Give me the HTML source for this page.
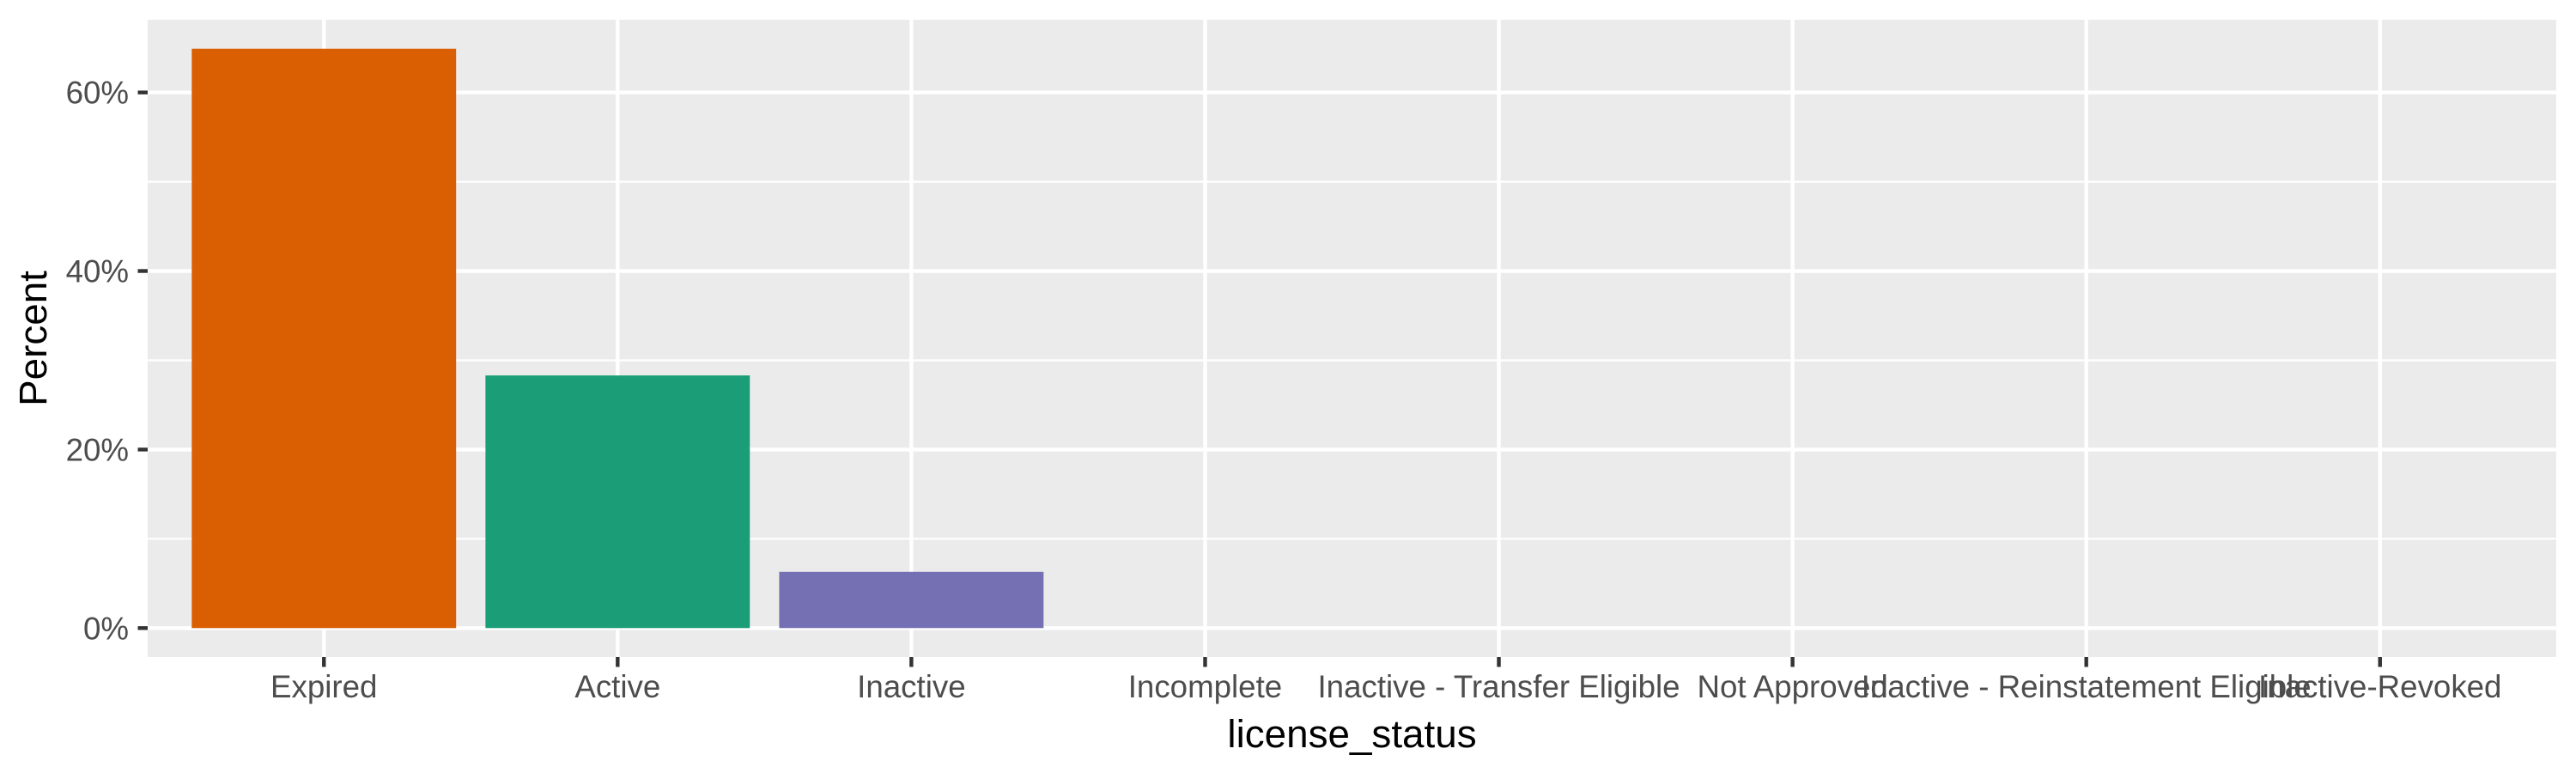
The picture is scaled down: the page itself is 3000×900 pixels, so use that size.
<!DOCTYPE html>
<html><head><meta charset="utf-8"><style>
html,body{margin:0;padding:0;background:#fff;}
svg{display:block;font-family:"Liberation Sans",Arial,sans-serif;}
</style></head><body>
<svg id="chart" width="3000" height="900" xmlns="http://www.w3.org/2000/svg">
<rect width="3000" height="900" fill="#fff"/>
<g id="panel"></g>
<g id="bars"></g>
<g id="yaxis"></g>
<g id="xaxis"></g>
<text x="1574.5" y="870" font-size="45.8" text-anchor="middle" fill="#000">license_status</text>
<text transform="translate(54,394) rotate(-90)" font-size="45.8" text-anchor="middle" fill="#000">Percent</text>
</svg>
<script>
const categories = ["Expired","Active","Inactive","Incomplete","Inactive - Transfer Eligible","Not Approved","Inactive - Reinstatement Eligible","Inactive-Revoked"];
const values = [64.9, 28.3, 6.3, 0, 0, 0, 0, 0];
const colors = ["#D95F02","#1B9E77","#7570B3","#E7298A","#66A61E","#E6AB02","#A6761D","#666666"];
const yTicks = [0, 20, 40, 60];
const yTickLabels = ["0%","20%","40%","60%"];

const NS = "http://www.w3.org/2000/svg";
const L = 172, R = 2977, T = 23, B = 765;
const maxV = Math.max(...values);
const yMin = -maxV*0.05, yMax = maxV*1.05;
function y(v){ return B - (v - yMin)/(yMax - yMin)*(B - T); }
const n = categories.length;
function x(i){ return L + (i + 1 - 0.4)/(n + 0.2)*(R - L); }
const unit = (R - L)/(n + 0.2);
function mk(tag, attrs, parent){ const e = document.createElementNS(NS, tag); for (const k in attrs) e.setAttribute(k, attrs[k]); parent.appendChild(e); return e; }

const panel = document.getElementById('panel');
const bg = mk('rect', {x:L, y:T, width:R-L, height:B-T, fill:'#EBEBEB'}, panel);


for (let k = 0; k < yTicks.length - 1; k++) {
  const m = (yTicks[k] + yTicks[k+1]) / 2;
  const g = mk('line', {x1:L, x2:R, y1:y(m), y2:y(m), stroke:'#fff', 'stroke-width':2.2}, panel);
  
  
}
{
  const m = yTicks[yTicks.length-1] + (yTicks[1]-yTicks[0])/2;
  if (y(m) > T) {
    const g = mk('line', {x1:L, x2:R, y1:y(m), y2:y(m), stroke:'#fff', 'stroke-width':2.2}, panel);
    
    
  }
}
yTicks.forEach(v => {
  const g = mk('line', {x1:L, x2:R, y1:y(v), y2:y(v), stroke:'#fff', 'stroke-width':4.4}, panel);
  
  
});
categories.forEach((c, i) => {
  const g = mk('line', {x1:x(i), x2:x(i), y1:T, y2:B, stroke:'#fff', 'stroke-width':4.4}, panel);
  
  
});

const bars = document.getElementById('bars');
values.forEach((v, i) => {
  const w = unit*0.9;
  const r = mk('rect', {x:x(i)-w/2, y:Math.min(y(v), y(0)), width:w, height:Math.abs(y(0)-y(v)), fill:colors[i]}, bars);
  
  
});

const ya = document.getElementById('yaxis');
yTicks.forEach((v, k) => {
  const t = mk('line', {x1:L-11.5, x2:L, y1:y(v), y2:y(v), stroke:'#333', 'stroke-width':4.4}, ya);
  
  
  const tx = mk('text', {x:L-22, y:y(v)+13, 'font-size':36.7, 'text-anchor':'end', fill:'#4D4D4D'}, ya);
  tx.textContent = yTickLabels[k];
  
  
});

const xa = document.getElementById('xaxis');
categories.forEach((c, i) => {
  const t = mk('line', {x1:x(i), x2:x(i), y1:B, y2:B+11.5, stroke:'#333', 'stroke-width':4.4}, xa);
  
  
  const tx = mk('text', {x:x(i), y:812, 'font-size':36.7, 'text-anchor':'middle', fill:'#4D4D4D'}, xa);
  tx.textContent = c;
  
  
});
</script>
</body></html>
